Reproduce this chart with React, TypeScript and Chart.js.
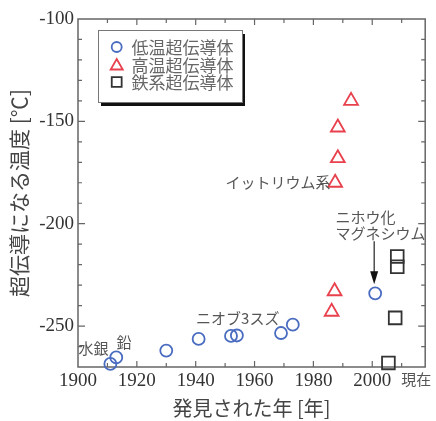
import React, { useEffect, useRef } from 'react';
import { Chart, registerables } from 'chart.js';

Chart.register(...registerables);

// ---- data ----
const xTickValues = [1900, 1920, 1940, 1960, 1980, 2000, 2015];
const xTickLabels = ['1900', '1920', '1940', '1960', '1980', '2000', '現在'];
const yTickValues = [-250, -200, -150, -100];

const seriesNames = ['低温超伝導体', '高温超伝導体', '鉄系超伝導体'];

const lowTempYears = [1911, 1913, 1930, 1941, 1952, 1954, 1969, 1973, 2001];
const lowTempValues = [-268.5, -265.3, -262, -256.3, -254.8, -254.6, -253.4, -249.3, -234];

const highTempYears = [1986.2, 1987.2, 1987.4, 1988.3, 1988.3, 1992.8];
const highTempValues = [-243, -233, -180, -168, -153, -140];

const ironYears = [2005.5, 2007.8, 2008.5, 2008.5];
const ironValues = [-268, -246, -216, -221];

const annotationTexts = ['水銀', '鉛', 'ニオブ3スズ', 'イットリウム系', 'ニホウ化', 'マグネシウム'];
const annotationYears = [1905.3, 1915.6, 1954.3, 1985.8, 1987.5, 1987.5];
const annotationValues = [-261.1, -257.9, -246.0, -179.6, -196.8, -204.6];
const annotationAligns = ['center', 'center', 'center', 'right', 'left', 'left'];

// arrow points at the MgB2 point (last low-temperature value)
const arrowIndex = 8;

const BLUE = '#4a6cc0';
const RED = '#e8404c';
const BLACK = '#333333';
const CJK = 'Noto Sans CJK JP';
const SERIF = 'Liberation Serif';

function drawSymbol(ctx: CanvasRenderingContext2D, kind: string, x: number, y: number, r: number, color: string) {
  ctx.save();
  ctx.strokeStyle = color;
  ctx.lineWidth = 1.8;
  ctx.beginPath();
  if (kind === 'circle') {
    ctx.arc(x, y, r, 0, Math.PI * 2);
  } else if (kind === 'triangle') {
    let rad = 0;
    ctx.moveTo(x + Math.sin(rad) * r, y - Math.cos(rad) * r);
    rad += (2 * Math.PI) / 3;
    ctx.lineTo(x + Math.sin(rad) * r, y - Math.cos(rad) * r);
    rad += (2 * Math.PI) / 3;
    ctx.lineTo(x + Math.sin(rad) * r, y - Math.cos(rad) * r);
    ctx.closePath();
  } else {
    const s = r * Math.SQRT1_2;
    ctx.rect(x - s, y - s, 2 * s, 2 * s);
  }
  ctx.stroke();
  ctx.restore();
}

const framePlugin = {
  id: 'frame',
  beforeDatasetsDraw(chart: any) {
    const { ctx, chartArea, scales } = chart;
    const { left, right, top, bottom } = chartArea;
    const xs = scales.x;
    const ys = scales.y;
    ctx.save();
    ctx.strokeStyle = '#666';
    ctx.lineWidth = 1.5;
    ctx.strokeRect(left, top, right - left, bottom - top);
    ctx.lineWidth = 1.2;
    ctx.beginPath();
    for (let v = 1910; v < xs.max; v += 10) {
      const px = xs.getPixelForValue(v);
      const len = v % 20 === 0 ? 6 : 4;
      ctx.moveTo(px, bottom);
      ctx.lineTo(px, bottom - len);
      ctx.moveTo(px, top);
      ctx.lineTo(px, top + len);
    }
    for (let v = -260; v < ys.max; v += 10) {
      const py = ys.getPixelForValue(v);
      const len = v % 50 === 0 ? 7 : 4;
      ctx.moveTo(left, py);
      ctx.lineTo(left + len, py);
      ctx.moveTo(right, py);
      ctx.lineTo(right - len, py);
    }
    ctx.stroke();
    ctx.restore();
  },
  afterDatasetsDraw(chart: any) {
    const { ctx, scales } = chart;
    const xs = scales.x;
    const ys = scales.y;
    ctx.save();
    ctx.fillStyle = '#555';
    ctx.font = `15px '${CJK}'`;
    ctx.textBaseline = 'middle';
    annotationTexts.forEach((t, i) => {
      ctx.textAlign = annotationAligns[i] as CanvasTextAlign;
      ctx.fillText(t, xs.getPixelForValue(annotationYears[i]), ys.getPixelForValue(annotationValues[i]));
    });
    // arrow to MgB2
    const ax = xs.getPixelForValue(lowTempYears[arrowIndex]) - 1;
    const ay = ys.getPixelForValue(lowTempValues[arrowIndex]);
    const tipY = ay - 9;
    ctx.strokeStyle = '#222';
    ctx.lineWidth = 1.2;
    ctx.beginPath();
    ctx.moveTo(ax, ay - 52);
    ctx.lineTo(ax, tipY - 10);
    ctx.stroke();
    ctx.fillStyle = '#111';
    ctx.beginPath();
    ctx.moveTo(ax, tipY);
    ctx.lineTo(ax - 4, tipY - 13);
    ctx.lineTo(ax + 4, tipY - 13);
    ctx.closePath();
    ctx.fill();
    ctx.restore();
  },
  afterDraw(chart: any) {
    const { ctx } = chart;
    const bx = 98, by = 30, bw = 144, bh = 72;
    ctx.save();
    ctx.fillStyle = '#111';
    ctx.fillRect(bx + 3, by + 4, bw, bh);
    ctx.fillStyle = '#fff';
    ctx.fillRect(bx, by, bw, bh);
    ctx.strokeStyle = '#777';
    ctx.lineWidth = 1;
    ctx.strokeRect(bx + 0.5, by + 0.5, bw, bh);
    const kinds = ['circle', 'triangle', 'rect'];
    const colors = [BLUE, RED, BLACK];
    const radii = [5, 7, 7];
    const rows = [47, 64.5, 82];
    ctx.font = `17px '${CJK}'`;
    ctx.textBaseline = 'middle';
    ctx.textAlign = 'left';
    seriesNames.forEach((name, i) => {
      drawSymbol(ctx, kinds[i], 116.7, rows[i] + (kinds[i] === 'triangle' ? 1.5 : 0), radii[i], colors[i]);
      ctx.fillStyle = '#666';
      ctx.fillText(name, 131.5, rows[i] + 1);
    });
    ctx.restore();
  },
};

export default function App() {
  const ref = useRef<HTMLCanvasElement>(null);

  useEffect(() => {
    if (!ref.current) return;
    const toPts = (xs: number[], ys: number[]) => xs.map((x, i) => ({ x, y: ys[i] }));
    const serifFont = { family: SERIF, size: 19 };
    const cjkTickFont = { family: CJK, size: 15 };
    const chart = new Chart(ref.current, {
      type: 'scatter',
      data: {
        datasets: [
          {
            label: seriesNames[0],
            data: toPts(lowTempYears, lowTempValues),
            pointStyle: 'circle',
            pointRadius: 6,
            borderColor: BLUE,
            backgroundColor: 'rgba(0,0,0,0)',
            pointBorderWidth: 1.8,
            clip: false,
          },
          {
            label: seriesNames[1],
            data: toPts(highTempYears, highTempValues),
            pointStyle: 'triangle',
            pointRadius: 8,
            borderColor: RED,
            backgroundColor: 'rgba(0,0,0,0)',
            pointBorderWidth: 1.8,
            clip: false,
          },
          {
            label: seriesNames[2],
            data: toPts(ironYears, ironValues),
            pointStyle: 'rect',
            pointRadius: 9,
            borderColor: BLACK,
            backgroundColor: 'rgba(0,0,0,0)',
            pointBorderWidth: 1.8,
            clip: false,
          },
        ],
      } as any,
      options: {
        responsive: false,
        animation: false,
        layout: { padding: { top: 19, right: 10, left: 0, bottom: 0 } },
        plugins: { legend: { display: false }, tooltip: { enabled: false } },
        scales: {
          x: {
            type: 'linear',
            min: 1900,
            max: 2018,
            afterBuildTicks: (s: any) => {
              s.ticks = xTickValues.map((v) => ({ value: v }));
            },
            afterFit: (s: any) => {
              s.height = 54;
            },
            grid: { display: false, drawTicks: false },
            border: { display: false },
            ticks: {
              padding: 3,
              autoSkip: false,
              maxRotation: 0,
              callback: (v: any) => {
                const i = xTickValues.indexOf(Number(v));
                return i >= 0 ? xTickLabels[i] : '';
              },
              font: (c: any) => (c.index === xTickValues.length - 1 ? cjkTickFont : serifFont),
              color: (c: any) => (c.index === xTickValues.length - 1 ? '#555' : '#333'),
            },
            title: {
              display: true,
              text: '発見された年 [年]',
              font: { family: CJK, size: 20 },
              color: '#444',
              padding: { top: 0, bottom: 1 },
            },
          },
          y: {
            type: 'linear',
            min: -270,
            max: -100,
            afterBuildTicks: (s: any) => {
              s.ticks = yTickValues.map((v) => ({ value: v }));
            },
            afterFit: (s: any) => {
              s.width = 78;
            },
            grid: { display: false, drawTicks: false },
            border: { display: false },
            ticks: {
              padding: 4,
              callback: (v: any) => String(v),
              font: serifFont,
              color: '#333',
            },
            title: {
              display: true,
              text: '超伝導になる温度 [℃]',
              font: { family: CJK, size: 21 },
              color: '#444',
              padding: { top: 6, bottom: 0 },
            },
          },
        },
      } as any,
      plugins: [framePlugin],
    });
    return () => chart.destroy();
  }, []);

  return (
    <div style={{ position: 'fixed', left: 0, top: 0, width: 436, height: 421, background: '#fff' }}>
      <canvas ref={ref} width={436} height={421} style={{ display: 'block' }} />
    </div>
  );
}
